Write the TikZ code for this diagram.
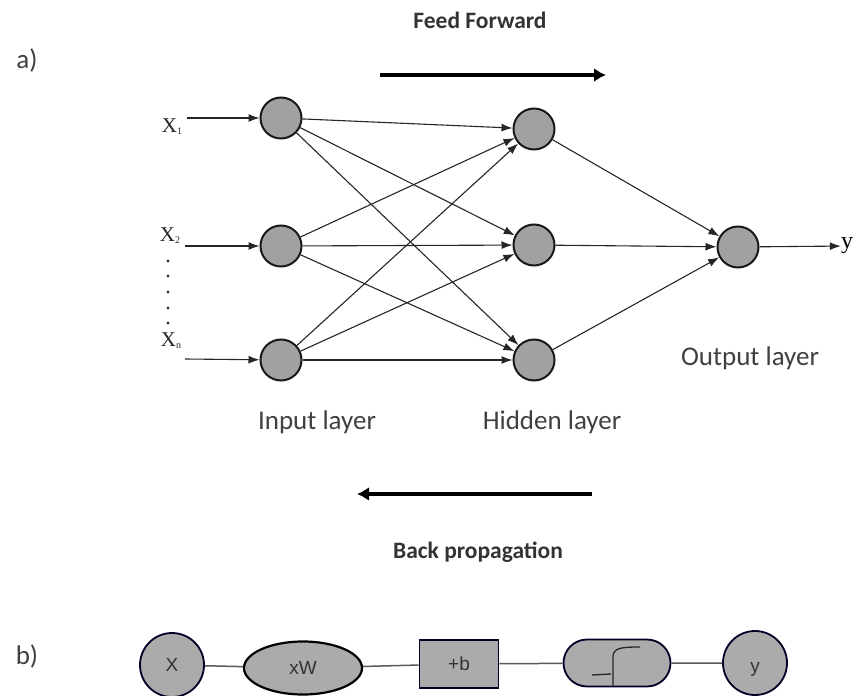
\documentclass[tikz,border=0pt]{standalone}
\usepackage{fontspec}
\setmainfont{Carlito}
\newfontfamily\serifx{Liberation Serif}
\newfontfamily\arialf{Liberation Sans}
\usetikzlibrary{arrows.meta,shapes.geometric,shapes.misc}
\begin{document}
\begin{tikzpicture}[x=1pt,y=-1pt,
  neuron/.style={circle,draw=black!90,line width=2pt,fill=black!37,minimum size=41pt,inner sep=0pt},
  edge/.style={draw=black!85,line width=1.1pt,-{Latex[length=11pt,width=8pt]}},
  bigarrow/.style={draw=black,line width=4.5pt,-{Latex[length=12pt,width=14pt]}},
  lbl/.style={font=\fontsize{27}{29}\selectfont,text=black!75},
  boldlbl/.style={font=\fontsize{23.5}{26}\selectfont\bfseries,text=black!80},
  xlbl/.style={font=\serifx\fontsize{21}{23}\selectfont,text=black!85,inner sep=0pt},
  bnode/.style={draw=black!75!blue!60!black,line width=1.8pt,fill=black!33,font=\arialf\fontsize{19}{21}\selectfont,text=black!80,inner sep=0pt},
  bline/.style={draw=black!65,line width=1.5pt}
]
\useasboundingbox (0,0) rectangle (855,696);

% labels
\node[lbl] (la) at (27,60) {a)};
\node[lbl] (lb) at (27,656) {b)};
\node[boldlbl] (ff) at (480,20) {Feed Forward};
\node[boldlbl] (bp) at (478,552) {Back propagation};
\node[lbl] (il) at (317,422) {Input layer};
\node[lbl] (hl) at (552,422) {Hidden layer};
\node[lbl] (ol) at (750,358) {Output layer};

% big arrows
\coordinate (ffa) at (380,75);
\coordinate (ffb) at (606,75);
\draw[bigarrow] (ffa) -- (ffb);
\coordinate (bpa) at (592,494);
\coordinate (bpb) at (357,494);
\draw[bigarrow] (bpa) -- (bpb);

% neurons
\node[neuron] (i1) at (281,118) {};
\node[neuron] (i2) at (281,246) {};
\node[neuron] (i3) at (281,360) {};
\node[neuron] (h1) at (534,129) {};
\node[neuron] (h2) at (534,245) {};
\node[neuron] (h3) at (534,360) {};
\node[neuron] (o1) at (738,247) {};

% input labels
\node[xlbl] (x1) at (172,127) {X\raisebox{-2pt}{\fontsize{10}{10}\selectfont 1}};
\node[xlbl] (x2) at (170,236) {X\raisebox{-2pt}{\fontsize{10}{10}\selectfont 2}};
\node[xlbl] (xn) at (171,341) {X\raisebox{-2pt}{\fontsize{10}{10}\selectfont n}};
\foreach \yy in {261,276,292,308,323} \fill[black!80] (168,\yy) circle (1.7pt);

\coordinate (a1) at (187,118);
\coordinate (a2) at (185,246);
\coordinate (a3) at (185,359);
\draw[edge] (a1) -- (i1);
\draw[edge] (a2) -- (i2);
\draw[edge] (a3) -- (i3);

\foreach \s in {i1,i2,i3}
  \foreach \t in {h1,h2,h3}
    \draw[edge] (\s) -- (\t);
\foreach \s in {h1,h2,h3}
  \draw[edge] (\s) -- (o1);

\node[font=\serifx\fontsize{24}{26}\selectfont,inner sep=0pt] (yo) at (847,246) {y};
\draw[edge] (o1) -- (yo);

% part b
\node[bnode,circle,minimum size=64pt] (bx) at (172,665) {X};
\node[bnode,ellipse,draw=black,line width=2.2pt,minimum width=118pt,minimum height=53pt] (bw) at (303,668) {xW};
\node[bnode,rectangle,minimum width=79pt,minimum height=48pt] (bb) at (459,664) {+b};
\node[bnode,rounded rectangle,minimum width=107pt,minimum height=47pt] (bs) at (617,663) {};
\node[bnode,circle,minimum size=64pt] (by) at (755,663) {\smash{\raisebox{-9pt}{y}}};
\draw[bline] (bx) -- (bw);
\draw[bline] (bw) -- (bb);
\draw[bline] (bb) -- (bs);
\draw[bline] (bs) -- (by);
% sigmoid glyph
\draw[black!85,line width=1.3pt] (592,675) -- (611,674);
\draw[black!85,line width=1.3pt] (613,686) -- (613,656) .. controls (614,648) and (621,647) .. (640,647);
\end{tikzpicture}
\end{document}
